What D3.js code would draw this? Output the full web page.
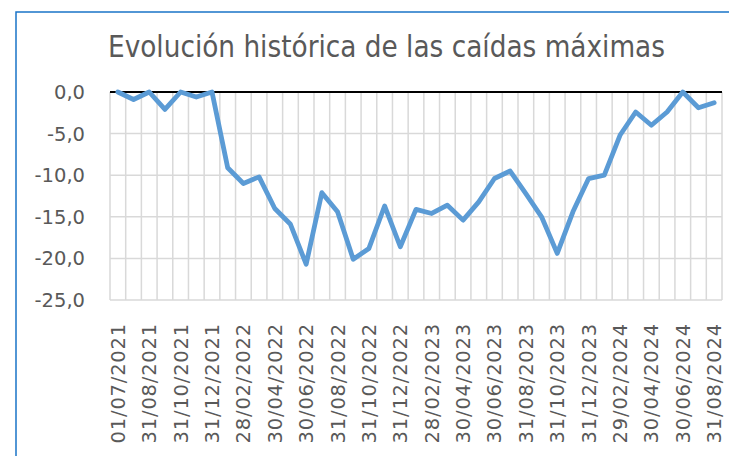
<!DOCTYPE html>
<html>
<head>
<meta charset="utf-8">
<script src="https://cdn.jsdelivr.net/npm/d3@7"></script>
<style>
  body { margin: 0; background: #fff; }
  text { font-family: "DejaVu Sans Condensed", "DejaVu Sans", sans-serif; fill: #595959; }
</style>
</head>
<body>
<div id="chart"></div>
<script>
// data
var dates = ["01/07/2021","31/07/2021","31/08/2021","30/09/2021","31/10/2021","30/11/2021","31/12/2021",
  "31/01/2022","28/02/2022","31/03/2022","30/04/2022","31/05/2022","30/06/2022","31/07/2022","31/08/2022",
  "30/09/2022","31/10/2022","30/11/2022","31/12/2022","31/01/2023","28/02/2023","31/03/2023","30/04/2023",
  "31/05/2023","30/06/2023","31/07/2023","31/08/2023","30/09/2023","31/10/2023","30/11/2023","31/12/2023",
  "31/01/2024","29/02/2024","31/03/2024","30/04/2024","31/05/2024","30/06/2024","31/07/2024","31/08/2024"];
var drawdown = [0, -0.9, 0, -2.1, 0, -0.6, 0,
  -9.1, -11.0, -10.2, -14.0, -15.9, -20.7, -12.1, -14.4,
  -20.1, -18.8, -13.7, -18.6, -14.1, -14.6, -13.6, -15.4,
  -13.2, -10.4, -9.5, -12.2, -15.0, -19.4, -14.4, -10.4,
  -10.0, -5.2, -2.4, -4.0, -2.4, 0, -1.9, -1.3];
var yTicks = [0, -5, -10, -15, -20, -25];
var title = "Evolución histórica de las caídas máximas";

var W = 729, H = 456;
var margin = {top: 92, right: 7, bottom: 156, left: 110};
var width = W - margin.left - margin.right,
    height = H - margin.top - margin.bottom;

var svg = d3.select("#chart").append("svg")
    .attr("width", W)
    .attr("height", H);

// outer frame
svg.append("rect")
    .attr("x", 16).attr("y", 12)
    .attr("width", 760).attr("height", 480)
    .attr("fill", "none")
    .attr("stroke", "#1a74c8")
    .attr("stroke-width", 1.5);

svg.append("text")
    .attr("x", 108).attr("y", 57)
    .style("font-size", "29.3px")
    .text(title);

var g = svg.append("g")
    .attr("transform", "translate(" + margin.left + "," + margin.top + ")");

var x = d3.scaleBand().domain(dates).range([0, width]);
var y = d3.scaleLinear().domain([-25, 0]).range([height, 0]);

// vertical gridlines on category boundaries
g.selectAll(".vgrid")
    .data(dates.concat(["end"]))
    .enter().append("line")
    .attr("x1", function (d, i) { return i * x.step(); })
    .attr("x2", function (d, i) { return i * x.step(); })
    .attr("y1", 0).attr("y2", height)
    .attr("stroke", "#d9d9d9").attr("stroke-width", 1.5);

// horizontal gridlines
g.selectAll(".hgrid")
    .data(yTicks.filter(function (d) { return d !== 0; }))
    .enter().append("line")
    .attr("x1", 0).attr("x2", width)
    .attr("y1", function (d) { return y(d); })
    .attr("y2", function (d) { return y(d); })
    .attr("stroke", "#d9d9d9").attr("stroke-width", 1.5);

// zero line
g.append("line")
    .attr("x1", 0).attr("x2", width)
    .attr("y1", y(0)).attr("y2", y(0))
    .attr("stroke", "#000").attr("stroke-width", 2);

// y labels
g.selectAll(".ylab")
    .data(yTicks)
    .enter().append("text")
    .attr("x", -25)
    .attr("y", function (d) { return y(d); })
    .attr("dy", "0.36em")
    .attr("text-anchor", "end")
    .style("font-family", "'DejaVu Sans', sans-serif")
    .style("font-size", "19.5px")
    .text(function (d) { return d3.format(".1f")(d).replace(".", ",").replace("−", "-"); });

// x labels every second month
g.selectAll(".xlab")
    .data(dates.filter(function (d, i) { return i % 2 === 0; }))
    .enter().append("text")
    .attr("text-anchor", "end")
    .attr("transform", function (d) {
        return "translate(" + (x(d) + x.bandwidth() / 2) + "," + (height + 23) + ") rotate(-90)";
    })
    .attr("dy", "0.36em")
    .style("font-family", "'DejaVu Sans', sans-serif")
    .style("font-size", "19.5px")
    .style("letter-spacing", "0.8px")
    .text(function (d) { return d; });

var line = d3.line()
    .x(function (d, i) { return x(dates[i]) + x.bandwidth() / 2; })
    .y(function (d) { return y(d); });

g.append("path")
    .datum(drawdown)
    .attr("d", line)
    .attr("fill", "none")
    .attr("stroke", "#5b9bd5")
    .attr("stroke-width", 4.8)
    .attr("stroke-linejoin", "round")
    .attr("stroke-linecap", "round");
</script>
</body>
</html>
